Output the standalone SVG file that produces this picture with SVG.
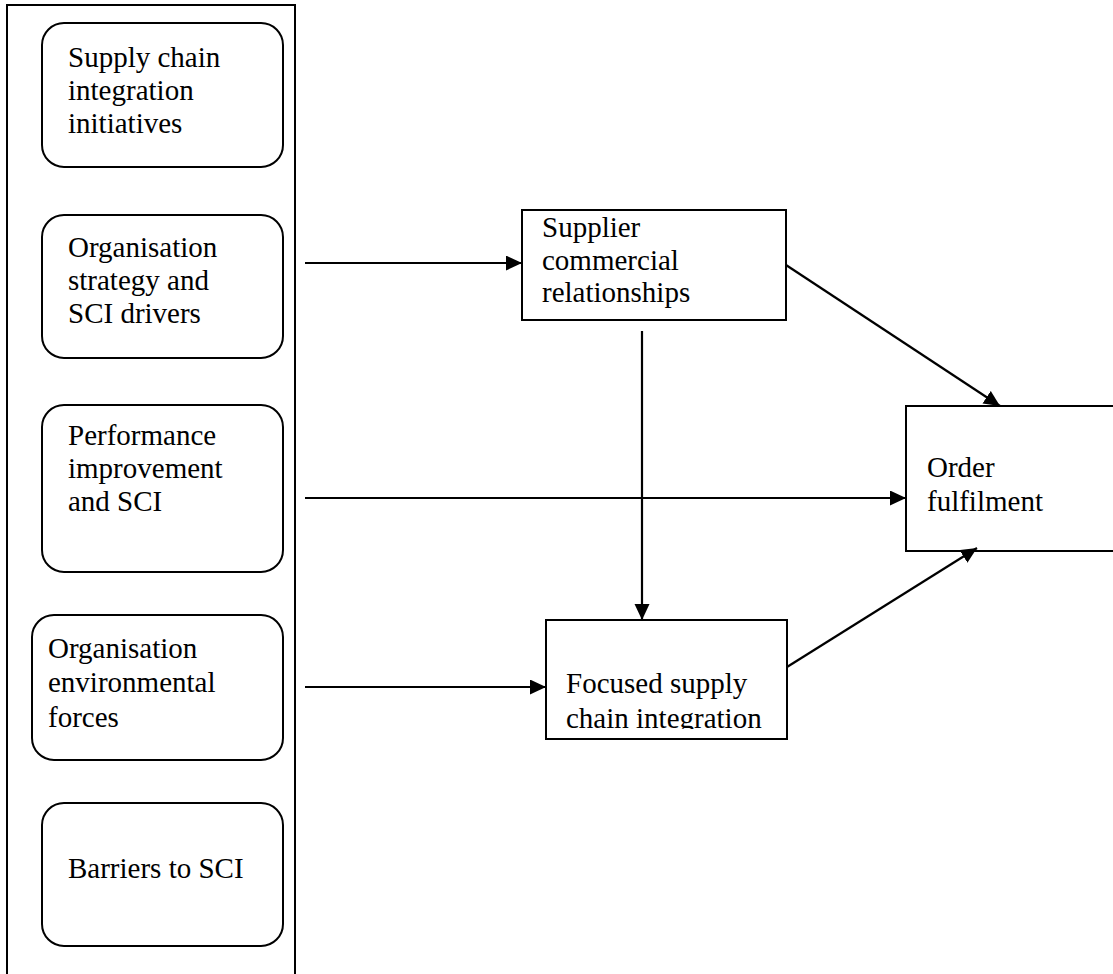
<svg xmlns="http://www.w3.org/2000/svg" width="1113" height="974" viewBox="0 0 1113 974">
<style>
text{font-family:"Liberation Serif","Times New Roman",serif;font-size:29px;fill:#000}
.rbox{fill:#fff;stroke:#000;stroke-width:2}
.box{fill:#fff;stroke:#000;stroke-width:2}
.conn line{stroke:#000;stroke-width:2.2;fill:none}
</style>
<defs>
<marker id="ah" markerUnits="userSpaceOnUse" markerWidth="18" markerHeight="16" refX="16" refY="7.5" orient="auto">
<path d="M0,0 L16,7.5 L0,15 z" fill="#000"/>
</marker>
<clipPath id="clipF"><rect x="546" y="620" width="241" height="109"/></clipPath>
</defs>
<rect id="frame" x="7" y="5" width="288" height="990" fill="none" stroke="#000" stroke-width="2"/>
<g id="n1">
<rect class="rbox" x="42" y="23" width="241" height="144" rx="22"/>
<text x="68" y="67">Supply chain</text>
<text x="68" y="100">integration</text>
<text x="68" y="133">initiatives</text>
</g>
<g id="n2">
<rect class="rbox" x="42" y="215" width="241" height="143" rx="22"/>
<text x="68" y="257">Organisation</text>
<text x="68" y="290">strategy and</text>
<text x="68" y="323">SCI drivers</text>
</g>
<g id="n3">
<rect class="rbox" x="42" y="405" width="241" height="167" rx="22"/>
<text x="68" y="445">Performance</text>
<text x="68" y="478">improvement</text>
<text x="68" y="511">and SCI</text>
</g>
<g id="n4">
<rect class="rbox" x="32" y="615" width="251" height="145" rx="22"/>
<text x="48" y="658">Organisation</text>
<text x="48" y="692">environmental</text>
<text x="48" y="727">forces</text>
</g>
<g id="n5">
<rect class="rbox" x="42" y="803" width="241" height="143" rx="22"/>
<text x="68" y="878">Barriers to SCI</text>
</g>
<g id="n6">
<rect class="box" x="522" y="210" width="264" height="110"/>
<text x="542" y="237">Supplier</text>
<text x="542" y="270">commercial</text>
<text x="542" y="302">relationships</text>
</g>
<g id="n7">
<rect class="box" x="546" y="620" width="241" height="119"/>
<g clip-path="url(#clipF)">
<text x="566" y="693">Focused supply</text>
<text x="566" y="728">chain integration</text>
</g>
</g>
<g id="n8">
<rect class="box" x="906" y="406" width="220" height="145"/>
<text x="927" y="477">Order</text>
<text x="927" y="511">fulfilment</text>
</g>
<g id="connectors" class="conn">
<line x1="305" y1="263" x2="522" y2="263" marker-end="url(#ah)"/>
<line x1="305" y1="498" x2="906" y2="498" marker-end="url(#ah)"/>
<line x1="305" y1="687" x2="546" y2="687" marker-end="url(#ah)"/>
<line x1="642" y1="331" x2="642" y2="620" marker-end="url(#ah)"/>
<line x1="786" y1="265" x2="1000" y2="406" marker-end="url(#ah)"/>
<line x1="787" y1="667" x2="977" y2="548" marker-end="url(#ah)"/>
</g>
</svg>
